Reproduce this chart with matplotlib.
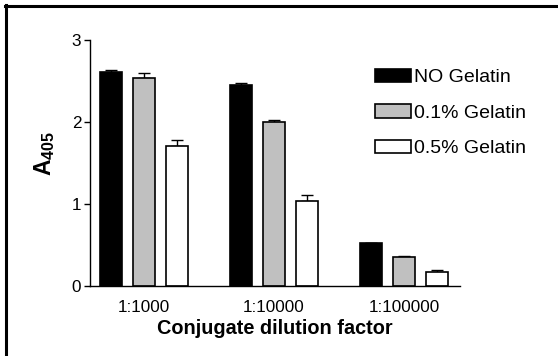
import numpy as np
import matplotlib.pyplot as plt
from matplotlib.lines import Line2D

plt.rcParams['font.family'] = ['Liberation Sans', 'DejaVu Sans']
plt.rcParams['mathtext.fontset'] = 'custom'
plt.rcParams['mathtext.rm'] = 'Liberation Sans'
plt.rcParams['mathtext.bf'] = 'Liberation Sans:bold'

# data
dilutions = ['1:1000', '1:10000', '1:100000']
series = ['NO Gelatin', '0.1% Gelatin', '0.5% Gelatin']
no_gel = [2.61, 2.45, 0.52]
gel_01 = [2.54, 2.00, 0.35]
gel_05 = [1.71, 1.04, 0.17]
err_no = [0.03, 0.02, 0.01]
err_01 = [0.06, 0.02, 0.01]
err_05 = [0.07, 0.07, 0.02]

values = [no_gel, gel_01, gel_05]
errors = [err_no, err_01, err_05]
colors = ['black', '#c0c0c0', 'white']

fig = plt.figure(figsize=(5.58, 3.56), dpi=100)
ax = fig.add_axes([0.1613, 0.1966, 0.6631, 0.691])

x = np.arange(len(dilutions))
w = 0.17
off = 0.254
for i in range(3):
    pos = x + (i - 1) * off
    ax.bar(pos, values[i], w, color=colors[i], edgecolor='black', linewidth=1.2, label=series[i], zorder=2)
    ax.errorbar(pos, values[i], yerr=[np.zeros(3), errors[i]], fmt='none', ecolor='black',
                elinewidth=1.0, capsize=4.3, capthick=1.0, zorder=1)

ax.set_xlim(-0.415, 2.43)
ax.set_ylim(0, 3)
ax.set_yticks([0, 1, 2, 3])
ax.set_xticks(x)
ax.set_xticklabels(dilutions)
ax.tick_params(axis='x', length=0, pad=10, labelsize=12.3)
ax.tick_params(axis='y', length=4.3, width=1.0, pad=2, labelsize=12.3)
for s in ['top', 'right']:
    ax.spines[s].set_visible(False)
for s in ['left', 'bottom']:
    ax.spines[s].set_linewidth(1.0)

ax.set_xlabel('Conjugate dilution factor', fontsize=14.3, fontweight='bold', labelpad=3)
ax.set_ylabel(r'$\mathbf{A_{405}}$', fontsize=16.5)
ax.yaxis.set_label_coords(-0.09, 0.54)

ax.legend(loc='upper left', bbox_to_anchor=(375 / 558, 1 - 69 / 356), bbox_transform=fig.transFigure,
          frameon=False, fontsize=14, handlelength=1.85, handleheight=0.67, handletextpad=0.15,
          labelspacing=0.92, borderpad=0, borderaxespad=0)

# frame of the original picture (left and top edges only)
fig.add_artist(Line2D([5.5 / 558, 5.5 / 558], [0, 1 - 5 / 356], color='black', linewidth=2.2,
                      transform=fig.transFigure))
fig.add_artist(Line2D([4.5 / 558, 1], [1 - 5.5 / 356, 1 - 5.5 / 356], color='black', linewidth=2.2,
                      transform=fig.transFigure))

fig.savefig('out.png', dpi=100)
